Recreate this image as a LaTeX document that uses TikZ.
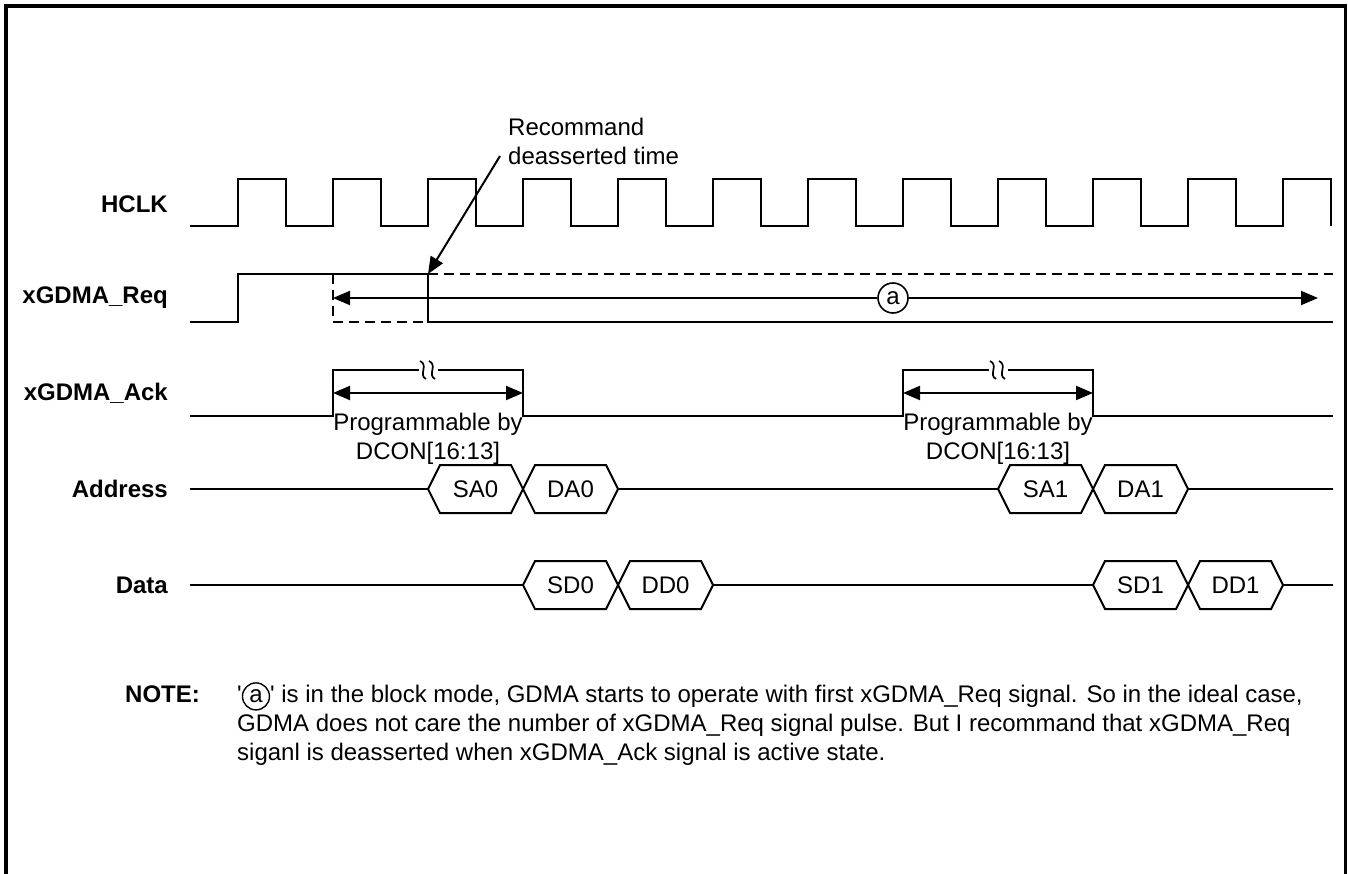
\documentclass[tikz,border=0pt]{standalone}
\usepackage{fontspec}
\setmainfont{Liberation Sans}
\usetikzlibrary{arrows.meta}

\newcommand{\circa}{\tikz[baseline=(cnote.base)]\node[draw,circle,minimum size=27pt,inner sep=0pt,line width=1.4pt](cnote){a};}
\newcommand{\busval}[4]{%
  \draw[sig] (#1,#3) -- ({#1+12},{#3-24}) -- ({#2-12},{#3-24}) -- (#2,#3) -- ({#2-12},{#3+24}) -- ({#1+12},{#3+24}) -- cycle;
  \node[inner sep=0pt] at ({(#1+#2)/2},#3) {#4};}
\newcommand{\brkmark}[2]{%
  \fill[white] ({#1-9},{#2-5}) rectangle ({#1+10},{#2+5});
  \draw[line width=1.7pt] ({#1-8},{#2-9}) .. controls ({#1+1},{#2-5}) and ({#1-10},{#2+5}) .. ({#1-2},{#2+9});
  \draw[line width=1.7pt] ({#1+1},{#2-9}) .. controls ({#1+10},{#2-5}) and ({#1-1},{#2+5}) .. ({#1+7},{#2+9});}

\begin{document}
\begin{tikzpicture}[
  x=1pt, y=-1pt,
  font=\fontsize{24}{29}\selectfont,
  sig/.style={line width=2pt},
  dsig/.style={line width=1.8pt, dash pattern=on 10pt off 6pt},
  arr/.style={line width=2pt, -{Triangle[length=17pt,width=14pt]}},
  darr/.style={line width=2pt, {Triangle[length=17pt,width=14pt]}-{Triangle[length=17pt,width=14pt]}},
  lbl/.style={font=\fontsize{24}{29}\selectfont\bfseries, anchor=east, inner sep=0pt},
  txt/.style={align=left, inner sep=0pt},
  frame/.style={line width=3.5pt}
]
\useasboundingbox (0,0) rectangle (1348,874);
\draw[frame] (6,874) -- (6,6) -- (1345.5,6) -- (1345.5,874);

\node[lbl] (lclk) at (168,204) {HCLK};
\node[lbl] (lreq) at (168,298) {xGDMA\_Req};
\node[lbl] (lack) at (168,393) {xGDMA\_Ack};
\node[lbl] (ladr) at (168,489) {Address};
\node[lbl] (ldat) at (168,585) {Data};

\draw[sig] (190,226) foreach \k in {0,...,11} {
  -- ({238+95*\k},226) -- ({238+95*\k},179) -- ({286+95*\k},179) -- ({286+95*\k},226)};

\draw[sig] (190,322) -- (238,322) -- (238,274) -- (428,274) -- (428,322) -- (1333,322);
\draw[dsig] (333,274) -- (333,322) -- (428,322);
\draw[dsig] (428,274) -- (1333,274);
\node[draw, circle, fill=white, minimum size=30pt, inner sep=0pt, line width=1.6pt] (ca) at (893,298) {a};
\coordinate (reqL) at (333,298);
\coordinate (reqR) at (1318,298);
\draw[arr] (ca.west) -- (reqL);
\draw[arr] (ca.east) -- (reqR);

\node[txt, anchor=north west] (rec) at (508,118) {Recommand\\deasserted time};
\coordinate (recS) at (500,156);
\coordinate (recT) at (428,274);
\draw[arr] (recS) -- (recT);

\draw[sig] (190,416) -- (333,416) -- (333,370) -- (523,370) -- (523,416) -- (903,416)
  -- (903,370) -- (1093,370) -- (1093,416) -- (1333,416);
\brkmark{428}{370}
\brkmark{998}{370}
\coordinate (ack1L) at (333,393);
\coordinate (ack1R) at (523,393);
\coordinate (ack2L) at (903,393);
\coordinate (ack2R) at (1093,393);
\draw[darr] (ack1L) -- (ack1R);
\draw[darr] (ack2L) -- (ack2R);
\node[txt, align=center, anchor=north] (prog1) at (428,413) {Programmable by\\DCON[16:13]};
\node[txt, align=center, anchor=north] (prog2) at (998,413) {Programmable by\\DCON[16:13]};

\draw[sig] (190,489) -- (428,489);
\draw[sig] (618,489) -- (998,489);
\draw[sig] (1188,489) -- (1333,489);
\busval{428}{523}{489}{SA0}
\busval{523}{618}{489}{DA0}
\busval{998}{1093}{489}{SA1}
\busval{1093}{1188}{489}{DA1}

\draw[sig] (190,585) -- (523,585);
\draw[sig] (713,585) -- (1093,585);
\draw[sig] (1283,585) -- (1333,585);
\busval{523}{618}{585}{SD0}
\busval{618}{713}{585}{DD0}
\busval{1093}{1188}{585}{SD1}
\busval{1188}{1283}{585}{DD1}

\node[txt, anchor=north west, font=\fontsize{24}{29}\selectfont\bfseries] (note) at (125,686) {NOTE:};
\node[txt, anchor=north west] (notetext) at (237,682) {\textquotesingle\circa\textquotesingle{} is in the block mode, GDMA starts to operate with first xGDMA\_Req signal. So in the ideal case,\\
GDMA does not care the number of xGDMA\_Req signal pulse. But I recommand that xGDMA\_Req\\
siganl is deasserted when xGDMA\_Ack signal is active state.};
\end{tikzpicture}
\end{document}
